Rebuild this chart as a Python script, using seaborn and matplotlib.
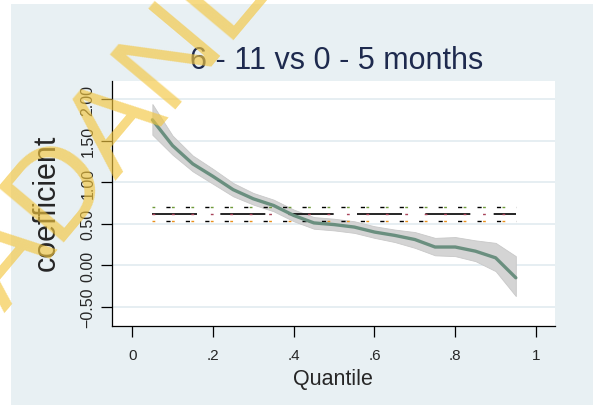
import numpy as np
import pandas as pd
import matplotlib
matplotlib.use('Agg')
import matplotlib.pyplot as plt
from matplotlib.patches import Rectangle
import seaborn as sns

# quantile regression coefficients
quantiles = [0.05, 0.10, 0.15, 0.20, 0.25, 0.30, 0.35, 0.40, 0.45, 0.50,
             0.55, 0.60, 0.65, 0.70, 0.75, 0.80, 0.85, 0.90, 0.95]
coef = [1.75, 1.44, 1.22, 1.07, 0.91, 0.80, 0.72, 0.60, 0.51, 0.49,
        0.46, 0.40, 0.36, 0.31, 0.22, 0.22, 0.17, 0.09, -0.15]
ci_low = [1.57, 1.33, 1.13, 0.98, 0.83, 0.73, 0.65, 0.53, 0.44, 0.42,
          0.39, 0.33, 0.28, 0.21, 0.12, 0.11, 0.05, -0.07, -0.37]
ci_high = [1.94, 1.56, 1.32, 1.16, 0.99, 0.87, 0.79, 0.67, 0.58, 0.56,
           0.53, 0.47, 0.43, 0.40, 0.33, 0.34, 0.30, 0.27, 0.11]

# OLS estimate and its confidence interval
ols_coef = 0.62
ols_low = 0.53
ols_high = 0.70

xticks = [0, 0.2, 0.4, 0.6, 0.8, 1.0]
xtick_labels = ['0', '.2', '.4', '.6', '.8', '1']
yticks = [-0.5, 0.0, 0.5, 1.0, 1.5, 2.0]
ytick_labels = ['\u22120.50', '0.00', '0.50', '1.00', '1.50', '2.00']

df = pd.DataFrame({'quantile': quantiles, 'coef': coef,
                   'lo': ci_low, 'hi': ci_high})

sns.set_style('white')
plt.rcParams['font.family'] = ['Liberation Sans', 'DejaVu Sans']

W, H = 596, 406
fig = plt.figure(figsize=(W / 100, H / 100), dpi=100)
fig.patch.set_facecolor('white')
fig.patches.append(Rectangle((11 / W, 0), 582 / W, 401 / H, transform=fig.transFigure,
                             facecolor='#e8f0f3', edgecolor='none', zorder=-10))

ax = fig.add_axes([112 / W, 1 - 327 / H, 443 / W, 245 / H])
ax.set_facecolor('white')

# grid lines
for y in yticks:
    ax.axhline(y, color='#e4edf1', linewidth=1.3, zorder=0)

# confidence band + quantile line
ax.fill_between(df['quantile'], df['lo'], df['hi'], color='#d4d4d4',
                edgecolor='#c8c8c8', linewidth=0.6, zorder=1)
sns.lineplot(data=df, x='quantile', y='coef', ax=ax, color='#6a8f7f',
             linewidth=2.4, zorder=3)

# OLS lines (Stata draws them as a messy multi-coloured dash pattern)
xr = [quantiles[0], quantiles[-1]]
ax.plot(xr, [ols_coef, ols_coef], color='black', linewidth=1.2,
        linestyle=(0, (27, 14)), zorder=2)
ax.plot(xr, [ols_coef, ols_coef], color='#a8445a', linewidth=1.0,
        linestyle=(0, (2, 12)), zorder=2)
ax.plot(xr, [ols_high, ols_high], color='black', linewidth=1.0,
        linestyle=(4, (3, 11)), zorder=2)
ax.plot(xr, [ols_high, ols_high], color='#6f9a3a', linewidth=1.0,
        linestyle=(0, (2, 12)), zorder=2)
ax.plot(xr, [ols_low, ols_low], color='black', linewidth=1.0,
        linestyle=(4, (3, 11)), zorder=2)
ax.plot(xr, [ols_low, ols_low], color='#e8901c', linewidth=1.0,
        linestyle=(0, (2, 12)), zorder=2)

ax.set_xlim(-0.05, 1.047)
ax.set_ylim(-0.73, 2.217)
ax.set_xticks(xticks)
ax.set_xticklabels(xtick_labels, fontsize=11)
ax.set_yticks(yticks)
ax.set_yticklabels(ytick_labels, fontsize=11.5, rotation=90, va='center')
ax.set_xlabel('')
ax.set_ylabel('')

for s in ['top', 'right']:
    ax.spines[s].set_visible(False)
for s in ['left', 'bottom']:
    ax.spines[s].set_color('black')
    ax.spines[s].set_linewidth(0.9)
ax.tick_params(axis='both', direction='out', length=8, width=0.9, color='black',
               left=True, bottom=True)
ax.tick_params(axis='x', pad=8)
ax.tick_params(axis='y', pad=4)

fig.text(337 / W, 1 - 61 / H, '6 - 11 vs 0 - 5 months', fontsize=22,
         color='#1e2a4e', ha='center', va='center')
fig.text(47 / W, 1 - 203 / H, 'coefficient', fontsize=22, rotation=90,
         ha='center', va='center')
fig.text(333 / W, 1 - 380 / H, 'Quantile', fontsize=15.5,
         ha='center', va='center')

# watermark
fig.text(114 / W, 1 - 133 / H, 'ADANL', fontsize=90, rotation=50,
         rotation_mode='anchor', ha='center', va='center',
         color='#f3c63f', alpha=0.65, zorder=20)

fig.savefig('out.png', dpi=100)
